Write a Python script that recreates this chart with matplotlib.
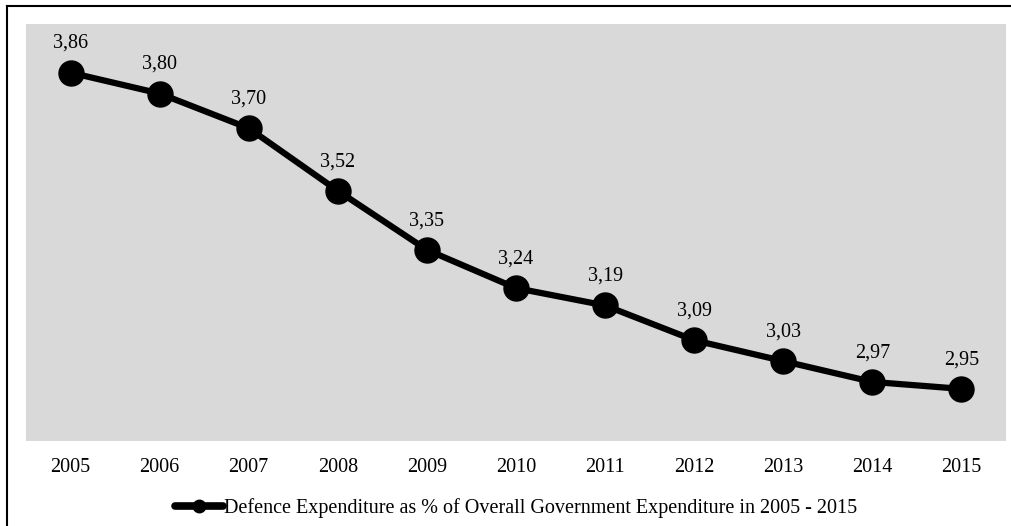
import matplotlib.pyplot as plt
from matplotlib.lines import Line2D

plt.rcParams['font.family'] = ['Liberation Serif', 'DejaVu Serif']

years = [2005, 2006, 2007, 2008, 2009, 2010, 2011, 2012, 2013, 2014, 2015]
share = [3.86, 3.80, 3.70, 3.52, 3.35, 3.24, 3.19, 3.09, 3.03, 2.97, 2.95]
series_name = 'Defence Expenditure as % of Overall Government Expenditure in 2005 - 2015'

W, H = 1012, 526
fig = plt.figure(figsize=(W / 100, H / 100), dpi=100)
ax = fig.add_axes([26 / W, 1 - 441 / H, 980 / W, 417 / H])
ax.set_facecolor('#d9d9d9')

ax.plot(years, share, color='black', lw=4.5, marker='o', ms=18,
        label=series_name, solid_capstyle='round')

for x, y in zip(years, share):
    ax.annotate(f'{y:.2f}'.replace('.', ','), (x, y), xytext=(0, 21),
                textcoords='offset points', ha='center', va='center', fontsize=14.5)

ax.set_xlim(2004.5, 2015.5)
ax.set_ylim(2.8, 4.0)
ax.set_xticks(years)
ax.set_xticklabels([str(y) for y in years], fontsize=14.5)
ax.tick_params(axis='x', length=0, pad=12.5)
ax.set_yticks([])
for s in ax.spines.values():
    s.set_visible(False)

leg = fig.legend(loc='center', bbox_to_anchor=(516 / W, 1 - 508 / H), frameon=False,
                 fontsize=14.5, handlelength=2.4, handletextpad=0.05, markerscale=0.5)
for h in leg.legend_handles:
    h.set_linewidth(5.5)

# frame lines along the top and left edges
fig.add_artist(Line2D([7 / W, 1], [1 - 6 / H, 1 - 6 / H], color='black', lw=1.5))
fig.add_artist(Line2D([7 / W, 7 / W], [0, 1 - 6 / H], color='black', lw=1.5))

fig.savefig('out.png', dpi=100)
